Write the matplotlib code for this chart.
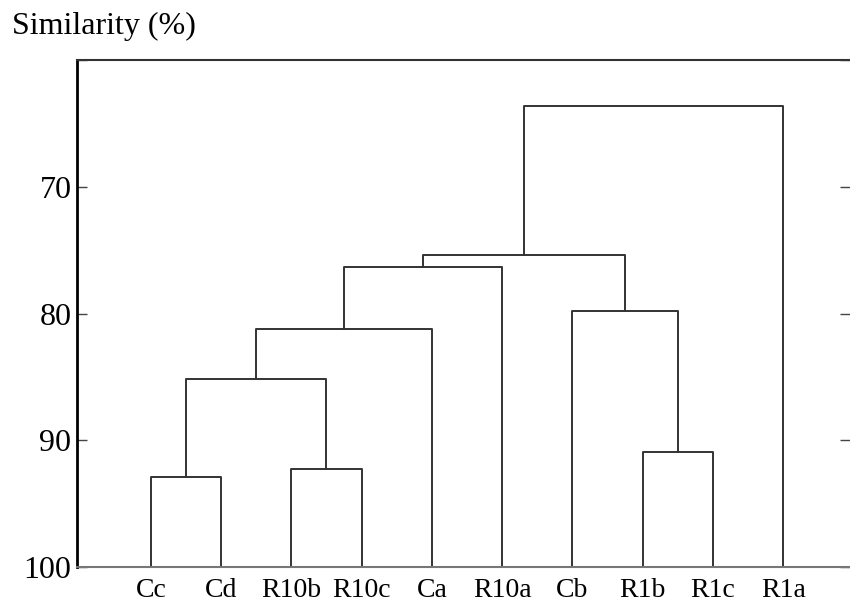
import matplotlib
matplotlib.use('Agg')
import matplotlib.pyplot as plt

# leaf order along the x axis
leaves = ['Cc', 'Cd', 'R10b', 'R10c', 'Ca', 'R10a', 'Cb', 'R1b', 'R1c', 'R1a']

# merges: (left cluster, right cluster, similarity %) ; new clusters get ids 10, 11, ...
merge_left = [0, 2, 7, 10, 13, 14, 6, 15, 17]
merge_right = [1, 3, 8, 11, 4, 5, 12, 16, 9]
merge_sim = [92.9, 92.3, 90.9, 85.2, 81.2, 76.3, 79.8, 75.4, 63.6]

y_ticks = [60, 70, 80, 90, 100]
y_tick_labels = ['', '70', '80', '90', '100']

plt.rcParams['font.family'] = ['Liberation Serif', 'DejaVu Serif']

fig = plt.figure(figsize=(8.5, 6.1), dpi=100)
ax = fig.add_axes([0.0906, 0.0705, 0.9094, 0.831])

line_kw = dict(color='#333333', lw=1.4, solid_capstyle='projecting')

# position/height of each cluster
pos = {i: i for i in range(len(leaves))}
height = {i: 100 for i in range(len(leaves))}
for k, (a, b, s) in enumerate(zip(merge_left, merge_right, merge_sim)):
    node = len(leaves) + k
    xa, xb = pos[a], pos[b]
    ax.plot([xa, xa, xb, xb], [height[a], s, s, height[b]], **line_kw)
    pos[node] = (xa + xb) / 2
    height[node] = s

ax.set_xlim(-1.05, 9.95)
ax.set_ylim(100, 60)

ax.set_xticks(range(len(leaves)))
ax.set_xticklabels(leaves, fontsize=20)
ax.tick_params(axis='x', length=0, pad=8)

ax.set_yticks(y_ticks)
ax.set_yticklabels(y_tick_labels, fontsize=23)
ax.tick_params(axis='y', direction='in', length=7, width=1, pad=4,
               right=True, color='#444444')

ax.spines['left'].set_linewidth(2)
ax.spines['left'].set_color('black')
ax.spines['top'].set_linewidth(1.5)
ax.spines['top'].set_color('#333333')
ax.spines['bottom'].set_linewidth(1.5)
ax.spines['bottom'].set_color('#777777')
ax.spines['right'].set_visible(False)

fig.text(12 / 850, 1 - 12 / 610, 'Similarity (%)', fontsize=23,
         ha='left', va='top')

fig.savefig('out.png', dpi=100)
